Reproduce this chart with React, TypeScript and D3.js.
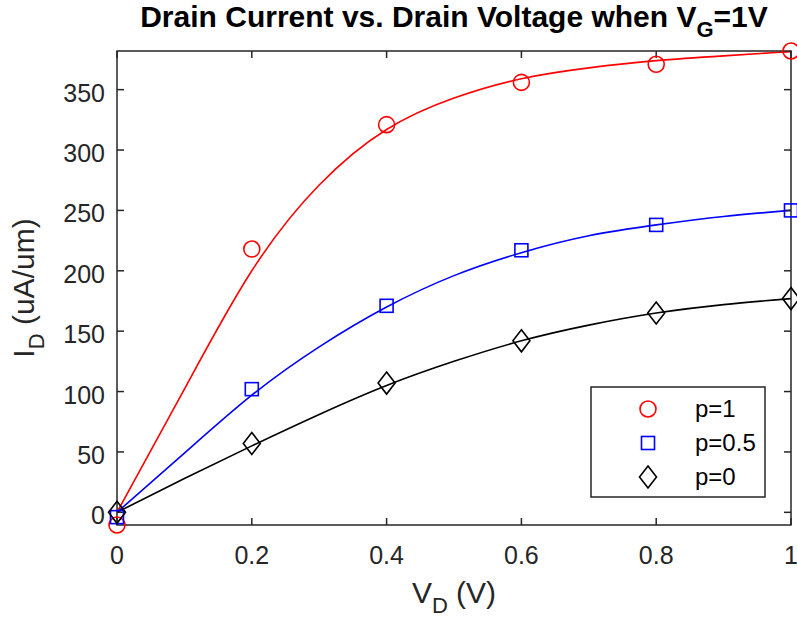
import React from "react";
import * as d3 from "d3";

// measured points (V_D in volts, I_D in uA/um)
const vd = [0, 0.2, 0.4, 0.6, 0.8, 1];
const idP1 = [-10.5, 218, 321, 356, 371, 382];
const idP05 = [-4, 102, 171, 217, 238, 250];
const idP0 = [0, 57, 107, 142, 165, 177];

// fitted curves
const fitX = [0, 0.1, 0.2, 0.3, 0.4, 0.5, 0.6, 0.7, 0.8, 0.9, 1];
const fitP1 = [0, 102, 200, 271, 317, 343, 359, 368, 374, 378, 381.5];
const fitP05 = [0, 49, 97, 137, 170, 196, 215, 229, 238, 245, 250];
const fitP0 = [0, 28, 55, 81, 105, 125, 142, 155, 165, 172, 177];

const xTicks = [0, 0.2, 0.4, 0.6, 0.8, 1];
const yTicks = [0, 50, 100, 150, 200, 250, 300, 350];
const legendLabels = ["p=1", "p=0.5", "p=0"];

const W = 797,
  H = 623;
const margin = { top: 51, right: 6, bottom: 98, left: 117 };
const axisColor = "#262626";
const font = "'Liberation Sans', Arial, Helvetica, sans-serif";

const series = [
  { name: legendLabels[0], color: "#ff0000", marker: "circle", pts: idP1, fit: fitP1 },
  { name: legendLabels[1], color: "#0000ff", marker: "square", pts: idP05, fit: fitP05 },
  { name: legendLabels[2], color: "#000000", marker: "diamond", pts: idP0, fit: fitP0 },
];

function Marker({ type, x, y, color }: { type: string; x: number; y: number; color: string }) {
  if (type === "circle")
    return <circle cx={x} cy={y} r={8} fill="none" stroke={color} strokeWidth={1.6} />;
  if (type === "square")
    return <rect x={x - 6.5} y={y - 6.5} width={13} height={13} fill="none" stroke={color} strokeWidth={1.6} />;
  return (
    <path
      d={`M${x},${y - 11}L${x + 8.5},${y}L${x},${y + 11}L${x - 8.5},${y}Z`}
      fill="none"
      stroke={color}
      strokeWidth={1.6}
    />
  );
}

export default function App() {
  const innerW = W - margin.left - margin.right;
  const innerH = H - margin.top - margin.bottom;
  const x = d3.scaleLinear().domain([0, 1]).range([margin.left, margin.left + innerW]);
  const y = d3.scaleLinear().domain([-10.5, 382]).range([margin.top + innerH, margin.top]);
  const x0 = margin.left,
    x1 = margin.left + innerW,
    y0 = margin.top + innerH,
    y1 = margin.top;
  const tickLen = 7;

  const line = d3
    .line<number>()
    .x((_, i) => x(fitX[i]))
    .y((d) => y(d))
    .curve(d3.curveNatural);

  const leg = { x: 591, y: 387, w: 174, h: 110 };
  const rowY = [409, 443, 477];

  return (
    <svg width={W} height={H} style={{ position: "absolute", left: 0, top: 0, background: "#fff" }} fontFamily={font}>
      <rect width={W} height={H} fill="#fff" />

      {/* curves */}
      {series.map((s) => (
        <path key={s.name + "f"} d={line(s.fit) || ""} fill="none" stroke={s.color} strokeWidth={1.6} />
      ))}

      {/* axes box */}
      <rect x={x0} y={y1} width={innerW} height={innerH} fill="none" stroke={axisColor} strokeWidth={1.5} />
      {xTicks.map((t) => (
        <g key={"xt" + t}>
          <line x1={x(t)} x2={x(t)} y1={y0} y2={y0 - tickLen} stroke={axisColor} strokeWidth={1.5} />
          <line x1={x(t)} x2={x(t)} y1={y1} y2={y1 + tickLen} stroke={axisColor} strokeWidth={1.5} />
          <text x={x(t)} y={564} textAnchor="middle" fontSize={25} fill={axisColor}>
            {d3.format("~g")(t)}
          </text>
        </g>
      ))}
      {yTicks.map((t) => (
        <g key={"yt" + t}>
          <line x1={x0} x2={x0 + tickLen} y1={y(t)} y2={y(t)} stroke={axisColor} strokeWidth={1.5} />
          <line x1={x1} x2={x1 - tickLen} y1={y(t)} y2={y(t)} stroke={axisColor} strokeWidth={1.5} />
          <text x={x0 - 12} y={y(t) + 12} textAnchor="end" fontSize={25} fill={axisColor}>
            {t}
          </text>
        </g>
      ))}

      {/* markers */}
      {series.map((s) =>
        s.pts.map((v, i) => <Marker key={s.name + i} type={s.marker} x={x(vd[i])} y={y(v)} color={s.color} />)
      )}

      {/* title */}
      <text x={(x0 + x1) / 2} y={27} textAnchor="middle" fontSize={30} fontWeight="bold" fill="#000">
        Drain Current vs. Drain Voltage when V
        <tspan fontSize={22} dy={10}>G</tspan>
        <tspan dy={-10}>=1V</tspan>
      </text>

      {/* axis labels */}
      <text x={(x0 + x1) / 2} y={603} textAnchor="middle" fontSize={30} fill={axisColor}>
        V<tspan fontSize={22} dy={10}>D</tspan>
        <tspan dy={-10}> (V)</tspan>
      </text>
      <text
        transform={`translate(34,${(y0 + y1) / 2}) rotate(-90)`}
        textAnchor="middle"
        fontSize={30}
        fill={axisColor}
      >
        I<tspan fontSize={22} dy={10}>D</tspan>
        <tspan dy={-10}> (uA/um)</tspan>
      </text>

      {/* legend */}
      <rect x={leg.x} y={leg.y} width={leg.w} height={leg.h} fill="#fff" stroke={axisColor} strokeWidth={1.5} />
      {series.map((s, i) => (
        <g key={"lg" + s.name}>
          <Marker type={s.marker} x={648} y={rowY[i]} color={s.color} />
          <text x={695} y={rowY[i] + 8} fontSize={24} fill="#000">
            {s.name}
          </text>
        </g>
      ))}
    </svg>
  );
}
